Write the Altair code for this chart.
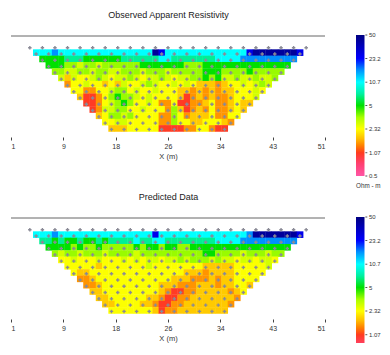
import math
import altair as alt
import pandas as pd

# ---------------- data ----------------
X_TICKS = [1, 9.3333, 17.6667, 26, 34.3333, 42.6667, 51]
LEGEND_VALUES = [0.5, 1.07, 2.32, 5, 10.7, 23.2, 50]
LEGEND_LABELS = ["0.5", "1.07", "2.32", "5", "10.7", "23.2", "50"]

COLOR_DOMAIN = [0.5, 0.75, 1.07, 1.35, 1.7, 2.32, 3.4, 5, 7.3, 10.7, 16, 23.2, 50]
COLOR_RANGE = ["#ff55a5", "#ff4070", "#ff3c1e", "#ff8000", "#ffbe00", "#ffff00",
               "#a8ff00", "#00e000", "#00f0a0", "#00ffff", "#0090ff", "#0000ff", "#000080"]

# colour class -> apparent resistivity (ohm-m)
CODE_VALUES = {"R": 1.05, "O": 1.45, "o": 1.8, "Y": 2.35, "y": 2.85, "L": 3.6,
               "G": 5.0, "g": 7.0, "C": 10.7, "c": 16.0, "B": 26.0, "N": 42.0}

# pseudosection rows (top to bottom); row i covers x = 5+i .. 47-i
OBS_ROWS = [
    "CCCc" + "CCCCCCCCCC" + "CCCCC" + "NB" + "CCCCCCCCC" + "CCCC" + "B" + "NNNNNNN" + "B",
    "GGGG" + "ggg" + "GGGGGG" + "ggggg" + "gCCgg" + "ggggg" + "CCCC" + "ccccccccc",
    "GGG" + "LLyLLyLLL" + "LLL" + "GGGGGGG" + "LLL" + "GGGGGGGGGGGGGG",
    "LLyyLLyLLyyLLLyLLLyLLLLL" + "GGG" + "LLLLGLLLLL",
    "yo" + "yYYyLyYy" + "yLyYyyLyYyyLL" + "GLG" + "yyLyyLyyL",
    "O" + "YYyYY" + "oYo" + "yYYyLyYYyYyYo" + "ooOo" + "YYyYyLy",
    "YY" + "OO" + "YY" + "yL" + "LYyYYyYYYo" + "oOoOoOoo" + "YYYyY",
    "o" + "RR" + "O" + "Y" + "LG" + "LLy" + "YyYYYY" + "o" + "R" + "OoOoO" + "Oo" + "YYYy",
    "RR" + "O" + "Y" + "yL" + "GL" + "YYyY" + "OO" + "Y" + "RR" + "OOo" + "Y" + "OOo" + "Y" + "oo",
    "R" + "O" + "yyL" + "L" + "YYyYY" + "Y" + "O" + "L" + "o" + "R" + "OoO" + "Y" + "OOo" + "Y" + "o",
    "oY" + "LL" + "yL" + "YYYY" + "OO" + "L" + "Y" + "O" + "ooo" + "Y" + "OO" + "YY",
    "YYy" + "yYYYYY" + "OO" + "L" + "YY" + "oo" + "YY" + "Y" + "oO",
    "oo" + "oY" + "YYYY" + "RRRR" + "OO" + "YY" + "O" + "RR",
]

PRED_ROWS = [
    "CCC" + "c" + "CCCCCCCCCCCCCCC" + "B" + "CCCCCCCCCCCCCC" + "c" + "NNNNNNN" + "B",
    "ggGgGGgGGgGgg" + "ggCgg" + "CCggg" + "ggggg" + "CCCC" + "ccccccccc",
    "GGGG" + "LGLLGLLL" + "LLGLGGLGGLL" + "GGGG" + "GGGGGGGGGGGG",
    "LyLLyLLLyLLLLyLLLLLLLLLL" + "GGL" + "LLLyLLLyLL",
    "YYyYYYyYYY" + "yYyYyyYyy" + "LyLLLyL" + "yyYyyYyyY",
    "YYYYYoYYY" + "YYYYyYYYYYYYY" + "ooooo" + "YYYYYy",
    "YooY" + "YYYYYYYYYYYYYYo" + "ooOoooo" + "YYYYY",
    "OOo" + "YYYYYYYYYYYYo" + "ooOOOoOoo" + "YYYY",
    "OO" + "oYYY" + "YYYYYYo" + "ooOOOooo" + "Ooo" + "YYo",
    "oo" + "YYY" + "YYYYYY" + "oO" + "RR" + "OOooo" + "ooO" + "oY",
    "oo" + "YY" + "YYYYo" + "oO" + "RRO" + "Ooooo" + "oooO",
    "ooY" + "YYY" + "ooO" + "RR" + "OOoo" + "ooo" + "ooO",
    "YYYYYYYo" + "R" + "OOooo" + "ooooo",
]

# measurement points (datum rows): first and last electrode position per level
MARK_FIRST = [4, 5, 6, 7, 8, 9, 10, 11, 12, 13, 14, 15, 16, 17]
MARK_LAST = [48, 47, 46, 45, 44, 43, 42, 41, 40, 39, 38, 37, 36, 35]
MARK_DEPTH0 = 1.86

ROW_TOP0 = 2.12
ROW_H = 1.005
FONT = "Liberation Sans"
PLOT_W, PLOT_H, VIEW_W = 314, 101, 370
CB_TOP_PX, CB_BOTTOM_PX = -1, 140


def build_cells(rows):
    recs = []
    for i, row in enumerate(rows):
        if len(row) != 43 - 2 * i:
            raise ValueError(f"row {i} has length {len(row)}")
        for j, ch in enumerate(row):
            u = 5 + i + j
            y0 = ROW_TOP0 + ROW_H * i
            recs.append({"x0": u - 0.5, "x1": u + 0.56, "y0": y0, "y1": y0 + ROW_H + 0.05,
                         "v": CODE_VALUES[ch]})
    return pd.DataFrame(recs)


def build_marks():
    recs = []
    for k, (a, b) in enumerate(zip(MARK_FIRST, MARK_LAST)):
        for u in range(a, b + 1, 2):
            recs.append({"u": u, "d": MARK_DEPTH0 + k})
    return pd.DataFrame(recs)


def _mix(c1, c2, t):
    a = [int(c1[i:i + 2], 16) for i in (1, 3, 5)]
    b = [int(c2[i:i + 2], 16) for i in (1, 3, 5)]
    return "#" + "".join(f"{round(x + (y - x) * t):02x}" for x, y in zip(a, b))


def colour_gradient(vmin):
    """Vertical gradient of the colour scale from vmin (bottom) to the top value."""
    lmin, lmax = math.log(vmin), math.log(COLOR_DOMAIN[-1])
    stops = []
    for k, (d, c) in enumerate(zip(COLOR_DOMAIN, COLOR_RANGE)):
        if d < vmin:
            nd = COLOR_DOMAIN[k + 1]
            if nd > vmin:
                t = (math.log(vmin) - math.log(d)) / (math.log(nd) - math.log(d))
                stops.append(alt.GradientStop(offset=0, color=_mix(c, COLOR_RANGE[k + 1], t)))
            continue
        stops.append(alt.GradientStop(offset=(math.log(d) - lmin) / (lmax - lmin), color=c))
    return alt.LinearGradient(gradient="linear", stops=stops, x1=0, x2=0, y1=1, y2=0)


def panel(title, rows, view_h, show_unit, label_values, label_texts):
    xs = alt.Scale(domain=[1, 51], range=[0, PLOT_W], nice=False, zero=False)
    ys = alt.Scale(domain=[0, 16.07], range=[0, PLOT_H], nice=False, zero=False)
    heat = alt.Chart(build_cells(rows)).mark_rect(strokeWidth=0).encode(
        x=alt.X("x0:Q", scale=xs,
                axis=alt.Axis(values=X_TICKS, labelExpr="'' + round(datum.value)",
                              title="X (m)", domain=False, grid=False, tickSize=3,
                              tickColor="#444", labelFontSize=7, labelColor="#333",
                              labelPadding=2, titleFontSize=7.5, titleFontWeight="normal",
                              titleColor="#333", titlePadding=3, labelFont=FONT,
                              titleFont=FONT, offset=-(view_h - PLOT_H))),
        x2="x1:Q",
        y=alt.Y("y0:Q", scale=ys, axis=None),
        y2="y1:Q",
        color=alt.Color("v:Q",
                        scale=alt.Scale(type="log", domain=COLOR_DOMAIN, range=COLOR_RANGE,
                                        clamp=True),
                        legend=None),
    )
    pts = alt.Chart(build_marks()).mark_point(shape="cross", filled=True, size=12,
                                              color="#8a8a96", opacity=1).encode(
        x=alt.X("u:Q", scale=xs, axis=None), y=alt.Y("d:Q", scale=ys, axis=None))
    top = alt.Chart(pd.DataFrame({"a": [1], "b": [51], "y": [0]})).mark_rule(
        color="#666", strokeWidth=1).encode(
        x=alt.X("a:Q", scale=xs, axis=None), x2="b:Q", y=alt.Y("y:Q", scale=ys, axis=None))

    # colour bar (legend) drawn beside the section, cut at the bottom of the view
    lo_log, hi_log = math.log10(0.5), math.log10(50)
    frac = (view_h - CB_TOP_PX) / (CB_BOTTOM_PX - CB_TOP_PX)
    vmin = max(0.5, 10 ** (hi_log - frac * (hi_log - lo_log)))
    cbx = alt.Scale(domain=[0, 1], range=[345, 353.5], nice=False, zero=False)
    cby = alt.Scale(type="log", domain=[0.5, 50], range=[CB_BOTTOM_PX, CB_TOP_PX], nice=False)
    bar = alt.Chart(pd.DataFrame({"a": [0], "b": [1], "lo": [vmin], "hi": [50]})).mark_rect(
        fill=colour_gradient(vmin)).encode(
        x=alt.X("a:Q", scale=cbx, axis=None), x2="b:Q",
        y=alt.Y("lo:Q", scale=cby, axis=None), y2="hi:Q")
    tdf = pd.DataFrame({"v": label_values, "txt": label_texts, "a": 1.1, "b": 1.33, "lx": 1.53})
    ticks = alt.Chart(tdf).mark_rule(color="#555", strokeWidth=1).encode(
        x=alt.X("a:Q", scale=cbx, axis=None), x2="b:Q",
        y=alt.Y("v:Q", scale=cby, axis=None))
    labels = alt.Chart(tdf).mark_text(align="left", baseline="middle", fontSize=6, font=FONT,
                                      color="#333").encode(
        x=alt.X("lx:Q", scale=cbx, axis=None), y=alt.Y("v:Q", scale=cby, axis=None),
        text="txt:N")
    layers = [heat, pts, top, bar, ticks, labels]
    if show_unit:
        unit = alt.Chart(pd.DataFrame({"a": [0], "v": [0.5], "t": ["Ohm - m"]})).mark_text(
            align="left", baseline="middle", fontSize=6.3, font=FONT, color="#333",
            dy=10).encode(
            x=alt.X("a:Q", scale=cbx, axis=None), y=alt.Y("v:Q", scale=cby, axis=None),
            text="t:N")
        layers.append(unit)
    return alt.layer(*layers).resolve_scale(x="independent", y="independent").properties(
        width=VIEW_W, height=view_h,
        title=alt.Title(title, fontSize=9, fontWeight="normal", font=FONT, color="#222",
                        offset=12, anchor="middle", dx=-27.5))


chart = alt.vconcat(
    panel("Observed Apparent Resistivity", OBS_ROWS, 154, True, LEGEND_VALUES, LEGEND_LABELS),
    panel("Predicted Data", PRED_ROWS, 125, False, LEGEND_VALUES[1:], LEGEND_LABELS[1:]),
    spacing=3,
).properties(
    padding={"left": 2, "top": 3, "right": 0, "bottom": 0}
).configure_view(stroke=None)

chart.save("out.html", embed_options={"renderer": "svg", "actions": False})
